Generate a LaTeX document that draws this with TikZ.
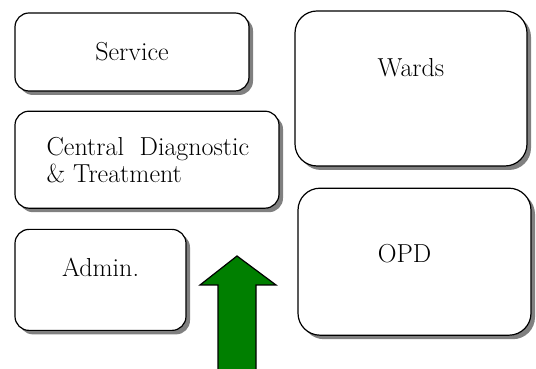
\documentclass[tikz,border=0pt]{standalone}
\usetikzlibrary{positioning,shadows}
\definecolor{ArrowGreen}{HTML}{007F00}
\definecolor{ShadowGray}{HTML}{808080}

\begin{document}
\begin{tikzpicture}[
  x=1pt, y=1pt,
  unit/.style={
    draw=black,
    line width=1.2pt,
    rounded corners=14pt,
    fill=white,
    drop shadow={shadow xshift=4pt, shadow yshift=-4pt,
      fill=ShadowGray, opacity=1},
    inner sep=0pt,
    font=\fontsize{26}{27}\selectfont
  },
  bigunit/.style={
    unit,
    rounded corners=22pt
  },
  note/.style={
    inner sep=0pt,
    font=\fontsize{26}{27}\selectfont
  },
  push/.style={
    draw=black,
    line width=1.2pt,
    fill=ArrowGreen
  }
]
\clip (0,0) rectangle (536,369);

% Left column
\node[unit, minimum width=234pt, minimum height=78pt]
  (service) at (132,317) {Service};

\node[unit, minimum width=264pt, minimum height=97pt,
  below right=19pt and 0pt of service.south west,
  label={[note, anchor=west, align=left, xshift=32pt]west:Central~~Diagnostic\\\&~Treatment}]
  (central) {};

\node[unit, minimum width=171pt, minimum height=101pt,
  below right=20pt and 0pt of central.south west,
  label={[note, anchor=center, yshift=-39pt]north:Admin.}]
  (admin) {};

% Right column
\node[bigunit, minimum width=232pt, minimum height=155pt,
  label={[note, anchor=center, yshift=-57pt]north:Wards}]
  (wards) at (411,280.5) {};

\node[bigunit, minimum width=233pt, minimum height=147pt,
  below right=21pt and 3pt of wards.south west,
  label={[note, anchor=center, xshift=-10pt, yshift=-66pt]north:OPD}]
  (opd) {};

% Arrow
\draw[push] (218,-10) -- (218,84) -- (200,84) -- (237,113)
  -- (276,84) -- (256,84) -- (256,-10) -- cycle;

\end{tikzpicture}
\end{document}
